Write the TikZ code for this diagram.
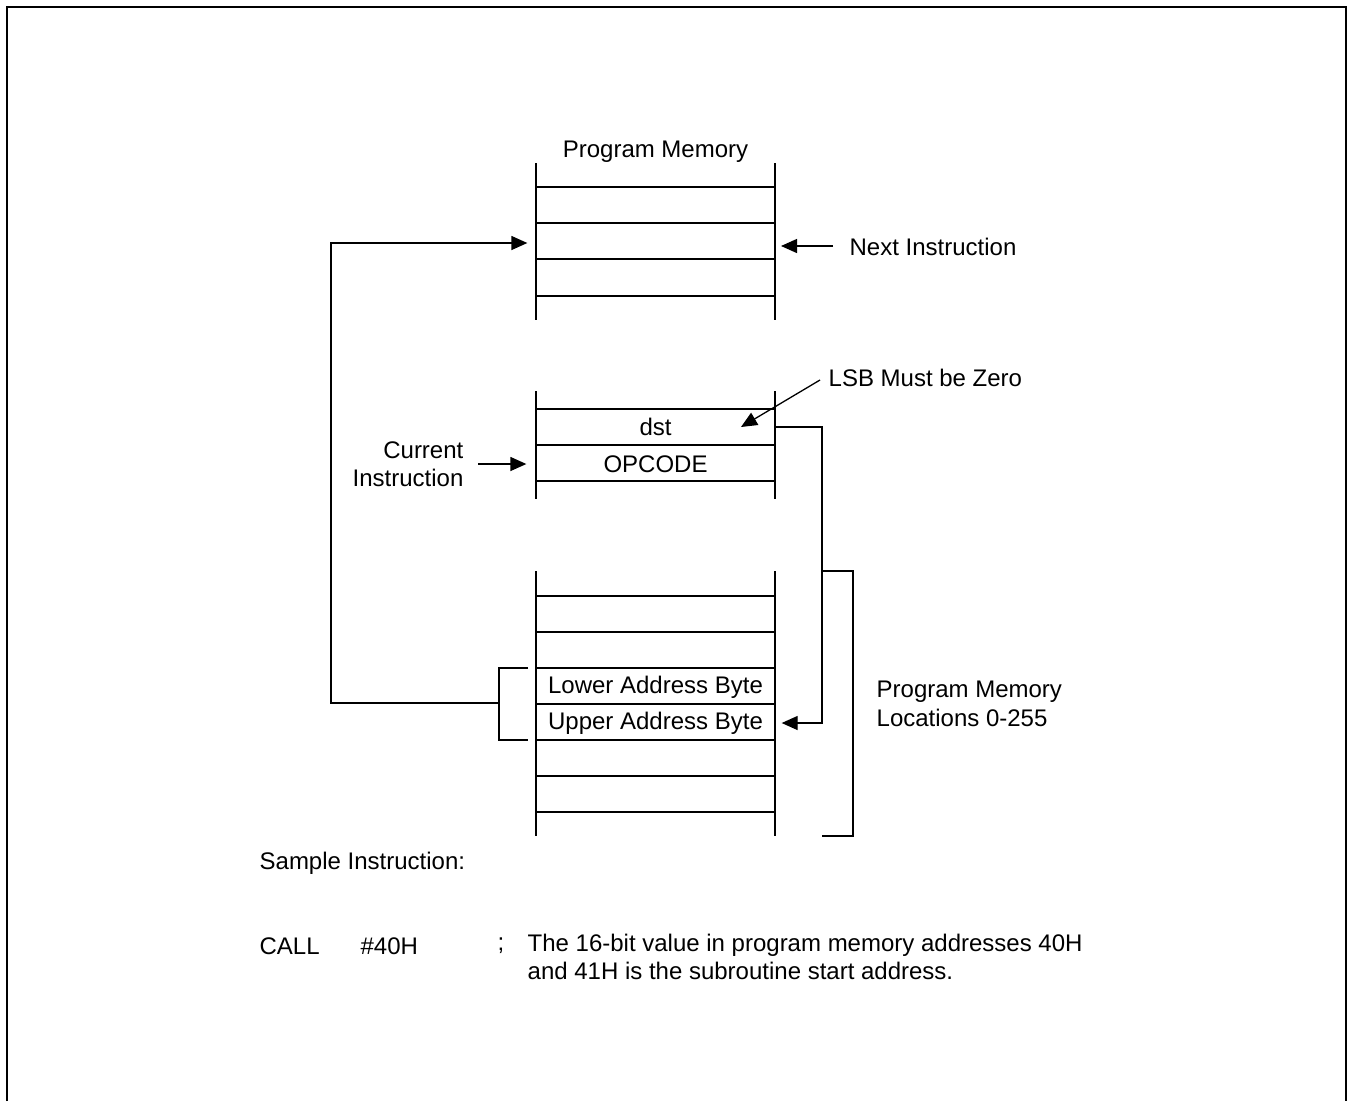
\documentclass[tikz,border=0pt]{standalone}
\usepackage{fontspec}
\setmainfont{Liberation Sans}
\usetikzlibrary{arrows.meta}

\begin{document}
\begin{tikzpicture}[x=1pt,y=-1pt,line width=1.3pt,every node/.style={font=\fontsize{24}{28.5}\selectfont,inner sep=0pt},
  arr/.style={-{Triangle[length=16pt,width=14pt]}},
  cell/.style={minimum width=239pt,minimum height=36pt}]
\useasboundingbox(0,0)rectangle(1348,1101);
\draw[line width=2.3pt](7,1101)--(7,7)--(1346,7)--(1346,1101);
% top column
\node at(655.5,152){Program Memory};
\draw(536,163)--(536,320)(775,163)--(775,320);
\foreach \y in {187,223,259,296} \draw(536,\y)--(775,\y);
\node[cell](next) at(655.5,243){};
\node[anchor=west](nxtlbl) at(849,247){Next Instruction};
\draw[arr](nxtlbl.west)++(-16,-1)coordinate(nxt)--(781,246);
% middle column
\draw(536,391)--(536,499)(775,391)--(775,499);
\foreach \y in {409,445,481} \draw(536,\y)--(775,\y);
\node[cell](dst) at(655.5,427){dst};\node[cell](opc) at(655.5,464){OPCODE};
\node[anchor=west](lsb) at(828,378){LSB Must be Zero};
\draw[arr](lsb.west)++(-8,2)--(741,427);
\node[align=right,anchor=east](cur) at(464,464){Current\\Instruction};
\draw[arr]([xshift=14pt]cur.east)--([xshift=-9pt]opc.west);
% bottom column
\draw(536,571)--(536,836)(775,571)--(775,836);
\foreach \y in {596,632,668,704,740,776,812} \draw(536,\y)--(775,\y);
\node[cell](lo) at(655.5,687){Lower Address Byte};\node[cell](up) at(655.5,723){Upper Address Byte};
\draw(528,668)--(499,668)--(499,740)--(528,740);\coordinate(brk) at(499,703);
\draw[arr](brk)--(331,703)|-([xshift=-8pt]next.west);
\draw[arr](dst.east)-|(822,600)|-([xshift=6pt]up.east);
\draw(822,571)--(853,571)--(853,836)--(822,836);
\node[align=left,anchor=west](loc) at(876,704){Program Memory\\Locations 0-255};
% sample
\node[anchor=west](smp) at(259,863){Sample Instruction:};
\node[anchor=west](call) at(259,946){CALL};\node[anchor=west](op) at(360,946){\#40H};
\node[anchor=west](semi) at(497,946){;};
\node[align=left,anchor=north west](cmt) at(527,933){The 16-bit value in program memory addresses 40H\\and 41H is the subroutine start address.};
\end{tikzpicture}
\end{document}
